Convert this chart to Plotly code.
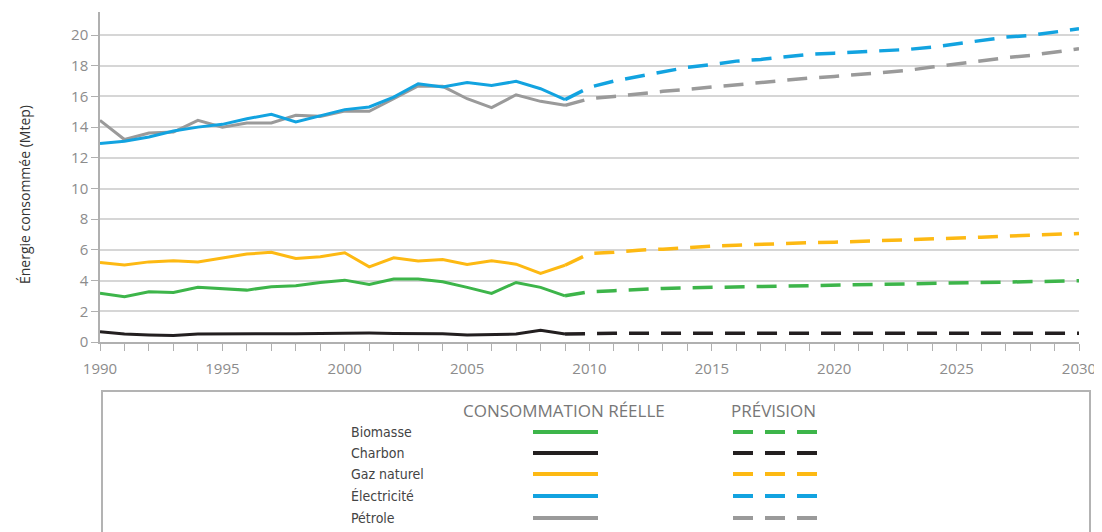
import plotly.graph_objects as go

# données (Mtep)
years_actual = list(range(1990, 2010))
years_forecast = list(range(2009, 2031))

biomasse_actual = [3.17, 2.95, 3.27, 3.23, 3.56, 3.45, 3.38, 3.6, 3.66, 3.88,
                   4.03, 3.75, 4.1, 4.1, 3.92, 3.56, 3.17, 3.88, 3.56, 3.01]
charbon_actual = [0.67, 0.52, 0.46, 0.42, 0.52, 0.54, 0.54, 0.54, 0.54, 0.56,
                  0.6, 0.58, 0.56, 0.54, 0.54, 0.45, 0.48, 0.52, 0.76, 0.52]
gaz_actual = [5.18, 5.01, 5.22, 5.29, 5.22, 5.49, 5.73, 5.84, 5.44, 5.55,
              5.81, 4.9, 5.49, 5.27, 5.38, 5.05, 5.29, 5.07, 4.47, 5.0]
elec_actual = [12.93, 13.08, 13.36, 13.75, 14.0, 14.18, 14.55, 14.83, 14.33, 14.72,
               15.14, 15.31, 15.96, 16.83, 16.61, 16.9, 16.72, 16.98, 16.5, 15.79]
petrole_actual = [14.44, 13.19, 13.62, 13.68, 14.44, 14.0, 14.27, 14.27, 14.77, 14.7,
                  15.05, 15.03, 15.85, 16.68, 16.66, 15.85, 15.27, 16.11, 15.68, 15.42]

biomasse_prev = [3.01, 3.27, 3.34, 3.43, 3.49, 3.53, 3.56, 3.6, 3.63, 3.66, 3.68,
                 3.69, 3.71, 3.74, 3.77, 3.8, 3.84, 3.87, 3.9, 3.93, 3.96, 3.99]
charbon_prev = [0.52, 0.57, 0.57, 0.57, 0.57, 0.57, 0.57, 0.57, 0.57, 0.57, 0.57,
                0.57, 0.57, 0.57, 0.57, 0.57, 0.57, 0.57, 0.57, 0.57, 0.57, 0.57]
gaz_prev = [5.0, 5.77, 5.85, 5.98, 6.05, 6.16, 6.25, 6.31, 6.38, 6.42, 6.47,
            6.5, 6.55, 6.59, 6.64, 6.68, 6.75, 6.83, 6.9, 6.96, 7.01, 7.07]
elec_prev = [15.79, 16.6, 17.0, 17.3, 17.65, 17.9, 18.07, 18.3, 18.41, 18.56, 18.74,
             18.82, 18.89, 18.95, 19.06, 19.21, 19.43, 19.65, 19.86, 19.97, 20.19, 20.41]
petrole_prev = [15.42, 15.85, 16.0, 16.18, 16.33, 16.46, 16.61, 16.77, 16.9, 17.05, 17.2,
                17.3, 17.44, 17.55, 17.7, 17.91, 18.13, 18.3, 18.52, 18.67, 18.89, 19.1]

names = ["Biomasse", "Charbon", "Gaz naturel", "Électricité", "Pétrole"]
colors = ["#3db54a", "#231f20", "#fdb913", "#12a3e0", "#9a9a9a"]
actuals = [biomasse_actual, charbon_actual, gaz_actual, elec_actual, petrole_actual]
forecasts = [biomasse_prev, charbon_prev, gaz_prev, elec_prev, petrole_prev]

DASH = "20px,12px"
# la page ajoute une marge de 8px autour du graphique
OFF = 8
W, H = 1102 - OFF, 532 - OFF
PL, PR, PT, PB = 100, 1079, 12, 342  # zone de tracé (pixels de l'écran)


def px_x(px):
    return (px - PL) / (PR - PL)


def px_y(py):
    return (PB - py) / (PB - PT)


fig = go.Figure()

draw_order = [0, 1, 2, 4, 3]
for i in draw_order:
    fig.add_trace(go.Scatter(
        x=years_forecast, y=forecasts[i], mode="lines",
        line=dict(color=colors[i], width=3.5, dash=DASH),
        showlegend=False, hoverinfo="skip",
    ))
for i in draw_order:
    fig.add_trace(go.Scatter(
        x=years_actual, y=actuals[i], mode="lines",
        line=dict(color=colors[i], width=3),
        showlegend=False, name=names[i],
    ))

shapes = []
annotations = []

# cadre de la légende
shapes.append(dict(
    type="rect", xref="paper", yref="paper",
    x0=px_x(102), x1=px_x(1090), y0=px_y(560), y1=px_y(391),
    line=dict(color="#b3b3b3", width=2), fillcolor="rgba(0,0,0,0)",
))

label_font = dict(family="DejaVu Sans Condensed, sans-serif", size=14, color="#444444")
head_font = dict(family="Open Sans, sans-serif", size=17, color="#777777")

annotations.append(dict(text="CONSOMMATION RÉELLE", xref="paper", yref="paper",
                        x=px_x(564), y=px_y(411), showarrow=False,
                        xanchor="center", yanchor="middle", font=head_font))
annotations.append(dict(text="PRÉVISION", xref="paper", yref="paper",
                        x=px_x(773), y=px_y(411), showarrow=False,
                        xanchor="center", yanchor="middle", font=head_font))

row_y = [432, 453, 474, 496, 518]
for name, color, ry in zip(names, colors, row_y):
    annotations.append(dict(text=name, xref="paper", yref="paper",
                            x=px_x(349), y=px_y(ry), showarrow=False,
                            xanchor="left", yanchor="middle", font=label_font))
    shapes.append(dict(type="line", xref="paper", yref="paper",
                       x0=px_x(533), x1=px_x(598), y0=px_y(ry), y1=px_y(ry),
                       line=dict(color=color, width=4)))
    shapes.append(dict(type="line", xref="paper", yref="paper",
                       x0=px_x(733), x1=px_x(818), y0=px_y(ry), y1=px_y(ry),
                       line=dict(color=color, width=4, dash=DASH)))

# titre de l'axe vertical
annotations.append(dict(text="Énergie consommée (Mtep)", xref="paper", yref="paper",
                        x=px_x(24), y=px_y(195), showarrow=False, textangle=-90,
                        xanchor="center", yanchor="middle",
                        font=dict(family="Open Sans, sans-serif", size=14, color="#333333")))

tick_font = dict(family="Open Sans, sans-serif", size=15, color="#8c8c8c")

fig.update_layout(
    width=W, height=H,
    margin=dict(l=PL - OFF, r=1102 - PR, t=PT - OFF, b=532 - PB),
    paper_bgcolor="white", plot_bgcolor="white",
    showlegend=False,
    shapes=shapes, annotations=annotations,
    xaxis=dict(
        range=[1990, 2030], tick0=1990, dtick=5,
        showgrid=False, zeroline=False,
        showline=True, linecolor="#b0b0b0", linewidth=1.5,
        ticks="outside", ticklen=7, tickcolor="#b0b0b0",
        tickfont=tick_font, ticklabelstandoff=5,
        minor=dict(dtick=1, ticks="outside", ticklen=7, tickcolor="#b0b0b0", showgrid=False),
    ),
    yaxis=dict(
        range=[0, 21.5], tick0=0, dtick=2,
        showgrid=True, gridcolor="#d6d6d6", gridwidth=1.5,
        zeroline=False,
        showline=True, linecolor="#b0b0b0", linewidth=1.5,
        ticks="outside", ticklen=7, tickcolor="#b0b0b0",
        tickfont=tick_font,
    ),
)

fig.write_html("out.html")
